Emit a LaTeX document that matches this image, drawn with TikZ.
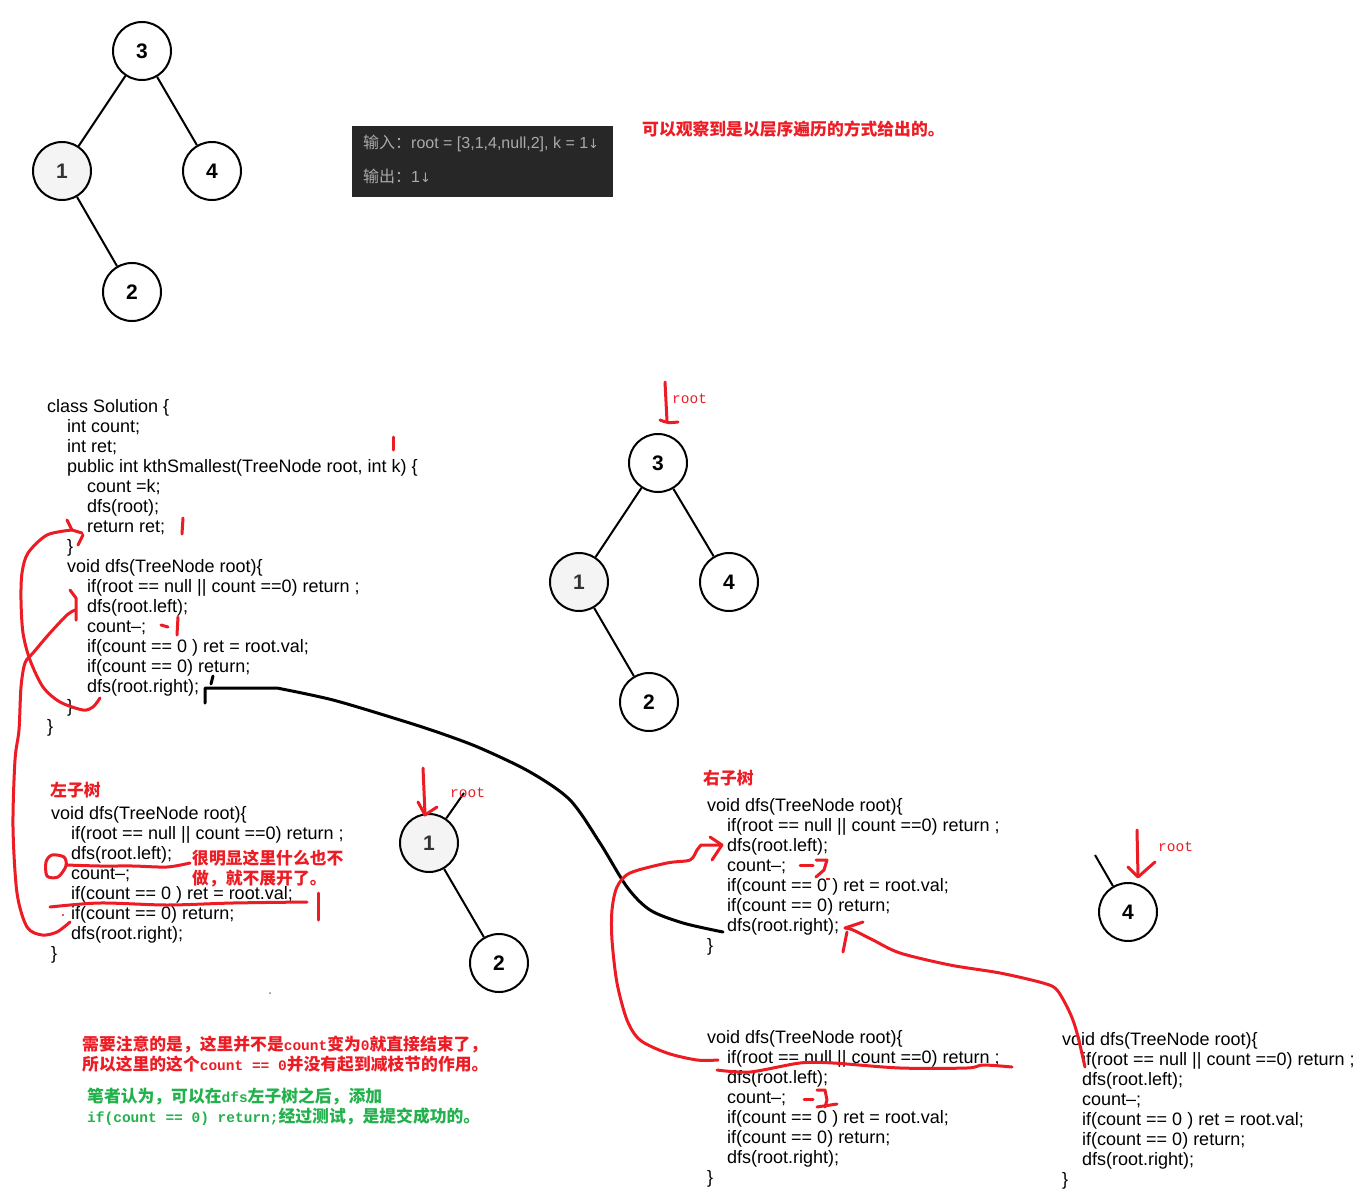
\documentclass[tikz,border=0pt]{standalone}
\usepackage{fontspec}
\setmainfont{Liberation Sans}
\setmonofont{Liberation Mono}
\newfontfamily\cjk{Noto Sans CJK SC}
\newfontfamily\arw{DejaVu Sans}
\definecolor{pred}{RGB}{237,28,36}
\definecolor{pgreen}{RGB}{34,177,76}
\definecolor{boxbg}{RGB}{39,39,39}
\definecolor{boxtx}{RGB}{170,170,170}
\definecolor{nodegray}{RGB}{244,244,244}
\newcommand\mt[1]{{\ttfamily\fontsize{14.5}{16}\selectfont #1}}
\tikzset{
  code/.style={font=\fontsize{18}{20}\selectfont, inner sep=0pt, anchor=base west, text=black},
  tnode/.style={circle, draw=black, line width=2pt, minimum size=58pt, inner sep=0pt, fill=white, font=\fontsize{21}{21}\selectfont\bfseries},
  gnode/.style={tnode, fill=nodegray, text=black!80},
  redpen/.style={draw=pred, line width=3pt, line cap=round, line join=round},
  blkpen/.style={draw=black, line width=3pt, line cap=round, line join=round},
  edge/.style={draw=black, line width=2pt},
  cjkred/.style={font=\cjk\fontsize{16.8}{20}\selectfont\bfseries, text=pred, inner sep=0pt, anchor=base west},
  cjkgreen/.style={font=\cjk\fontsize{16.8}{20}\selectfont\bfseries, text=pgreen, inner sep=0pt, anchor=base west},
  rootlbl/.style={font=\ttfamily\fontsize{14.5}{16}\selectfont, text=pred, inner sep=0pt, anchor=base west},
  boxtxt/.style={font=\fontsize{16}{18}\selectfont, text=boxtx, inner sep=0pt, anchor=base west}
}
\begin{document}
\begin{tikzpicture}[x=1pt,y=-1pt]
\fill[white] (0,0) rectangle (1371,1204);
\useasboundingbox (0,0) rectangle (1371,1204);

% ---------- top tree ----------
\node[tnode] (t3) at (142,51) {3};
\node[gnode] (t1) at (62,171) {1};
\node[tnode] (t4) at (212,171) {4};
\node[tnode] (t2) at (132,292) {2};
\draw[edge] (t3)--(t1);
\draw[edge] (t3)--(t4);
\draw[edge] (t1)--(t2);

% ---------- dark box ----------
\node[fill=boxbg, minimum width=261pt, minimum height=71pt, anchor=north west, inner sep=0pt] (inbox) at (352,126) {};
\node[boxtxt] (in1) at (363,148.5) {{\cjk 输入：}root = [3,1,4,null,2], k = 1{\arw\fontsize{13}{13}\selectfont ↓}};
\node[boxtxt] (in2) at (363,182.5) {{\cjk 输出：}1{\arw\fontsize{13}{13}\selectfont ↓}};

\node[cjkred] (note1) at (642,136) {可以观察到是以层序遍历的方式给出的。};

% ---------- code 1 ----------
\node[code] (a1) at (47,412) {class Solution \{};
\node[code] (a2) at (67,432) {int count;};
\node[code] (a3) at (67,452) {int ret;};
\node[code] (a4) at (67,472) {public int kthSmallest(TreeNode root, int k) \{};
\node[code] (a5) at (87,492) {count =k;};
\node[code] (a6) at (87,512) {dfs(root);};
\node[code] (a7) at (87,532) {return ret;};
\node[code] (a8) at (67,552) {\}};
\node[code] (a9) at (67,572) {void dfs(TreeNode root)\{};
\node[code] (a10) at (87,592) {if(root == null || count ==0) return ;};
\node[code] (a11) at (87,612) {dfs(root.left);};
\node[code] (a12) at (87,632) {count–;};
\node[code] (a13) at (87,652) {if(count == 0 ) ret = root.val;};
\node[code] (a14) at (87,672) {if(count == 0) return;};
\node[code] (a15) at (87,692) {dfs(root.right);};
\node[code] (a16) at (67,712) {\}};
\node[code] (a17) at (47,732) {\}};

% ---------- middle tree ----------
\node[tnode] (m3) at (658,463) {3};
\node[gnode] (m1) at (579,582) {1};
\node[tnode] (m4) at (729,582) {4};
\node[tnode] (m2) at (649,702) {2};
\draw[edge] (m3)--(m1);
\draw[edge] (m3)--(m4);
\draw[edge] (m1)--(m2);
\draw[redpen] (665,382) -- (667,421);
\draw[redpen] (660,420) .. controls (668,423) .. (678,422);
\node[rootlbl] (mroot) at (672,403) {root};

% ---------- left subtree ----------
\node[cjkred] (lt) at (50,796) {左子树};
\node[code] (b1) at (51,819) {void dfs(TreeNode root)\{};
\node[code] (b2) at (71,839) {if(root == null || count ==0) return ;};
\node[code] (b3) at (71,859) {dfs(root.left);};
\node[code] (b4) at (71,879) {count–;};
\node[code] (b5) at (71,899) {if(count == 0 ) ret = root.val;};
\node[code] (b6) at (71,919) {if(count == 0) return;};
\node[code] (b7) at (71,939) {dfs(root.right);};
\node[code] (b8) at (51,959) {\}};
\node[cjkred] (ln1) at (192,864) {很明显这里什么也不};
\node[cjkred] (ln2) at (192,884) {做，就不展开了。};

\node[gnode] (l1) at (429,843) {1};
\node[tnode] (l2) at (499,963) {2};
\coordinate (l1p) at (464,793);
\draw[edge] (l1)--(l2);
\draw[edge] (l1)--(l1p);
\draw[redpen] (423,768) -- (425,814);
\draw[redpen] (418,802) -- (425,815) -- (437,807);
\node[rootlbl] (lroot) at (450,797) {root};

% ---------- right subtree ----------
\node[cjkred] (rt) at (703,784) {右子树};
\node[code] (c1) at (707,811) {void dfs(TreeNode root)\{};
\node[code] (c2) at (727,831) {if(root == null || count ==0) return ;};
\node[code] (c3) at (727,851) {dfs(root.left);};
\node[code] (c4) at (727,871) {count–;};
\node[code] (c5) at (727,891) {if(count == 0 ) ret = root.val;};
\node[code] (c6) at (727,911) {if(count == 0) return;};
\node[code] (c7) at (727,931) {dfs(root.right);};
\node[code] (c8) at (707,951) {\}};

\node[tnode] (r4) at (1128,912) {4};
\coordinate (r4p) at (1095,855);
\draw[edge] (r4)--(r4p);
\draw[redpen] (1137,830) -- (1138,876);
\draw[redpen] (1128,867) -- (1138,877) -- (1155,862);
\node[rootlbl] (rroot) at (1158,851) {root};

% ---------- bottom middle ----------
\node[code] (d1) at (707,1043) {void dfs(TreeNode root)\{};
\node[code] (d2) at (727,1063) {if(root == null || count ==0) return ;};
\node[code] (d3) at (727,1083) {dfs(root.left);};
\node[code] (d4) at (727,1103) {count–;};
\node[code] (d5) at (727,1123) {if(count == 0 ) ret = root.val;};
\node[code] (d6) at (727,1143) {if(count == 0) return;};
\node[code] (d7) at (727,1163) {dfs(root.right);};
\node[code] (d8) at (707,1183) {\}};

% ---------- far right ----------
\node[code] (e1) at (1062,1045) {void dfs(TreeNode root)\{};
\node[code] (e2) at (1082,1065) {if(root == null || count ==0) return ;};
\node[code] (e3) at (1082,1085) {dfs(root.left);};
\node[code] (e4) at (1082,1105) {count–;};
\node[code] (e5) at (1082,1125) {if(count == 0 ) ret = root.val;};
\node[code] (e6) at (1082,1145) {if(count == 0) return;};
\node[code] (e7) at (1082,1165) {dfs(root.right);};
\node[code] (e8) at (1062,1185) {\}};

% ---------- bottom notes ----------
\node[cjkred] (bn1) at (82,1050) {需要注意的是，这里并不是\mt{count}变为\mt{0}就直接结束了，};
\node[cjkred] (bn2) at (82,1070) {所以这里的这个\mt{count == 0}并没有起到减枝节的作用。};
\node[cjkgreen] (gn1) at (87,1102) {笔者认为，可以在\mt{dfs}左子树之后，添加};
\node[cjkgreen] (gn2) at (87,1122) {\mt{if(count == 0) return;}经过测试，是提交成功的。};
\fill[gray] (270,993) circle (1pt);

% ---------- black hand curve ----------
\draw[blkpen] (205,703) -- (205,688) -- plot[smooth] coordinates {(277,688) (333,700) (400,720) (440,733) (480,748) (530,772) (570,800) (600,843) (627,887) (650,910) (683,923) (723,932)};
\draw[blkpen] (213,676) -- (211,684);

% ---------- red hand marks ----------
% code 1
\draw[redpen] (393,437) -- (393,450);
\draw[redpen] (183,518) -- (182,534);
\draw[redpen] (161,625) -- (168,627);
\draw[redpen] (178,617) -- (177,635);
% curve A
\draw[redpen] plot[smooth] coordinates {(100,698) (93,707) (83,710) (60,702) (43,687) (30,660) (23,633) (21,600) (22,573) (28,553) (47,535) (72,530)};
\draw[redpen] (67,520) -- (72,530) -- (82,533);
\draw[redpen] (78,545) -- (83,535);
% curve B
\draw[redpen] plot[smooth] coordinates {(75,610) (67,615) (50,633) (33,653) (25,663) (21,687) (19,730) (15,760) (13,827) (17,893) (27,927) (42,935) (57,932) (70,922)};
\draw[redpen] (70,590) -- (76,598) -- (76,620);
% left subtree marks
\draw[redpen] plot[smooth cycle] coordinates {(64,857) (52,855) (46,862) (47,876) (58,877) (66,866)};
\draw[redpen] plot[smooth] coordinates {(66,865) (100,866) (133,866) (167,867) (190,863)};
\draw[redpen] plot[smooth] coordinates {(50,907) (100,903) (167,905) (233,903) (307,902)};
\draw[redpen] (318,893) -- (318,920);
\fill[pred] (63,915) circle (1.2pt);
% right subtree marks
\draw[redpen] (800,865) -- (813,865);
\draw[redpen] (816,860) -- (827,860) -- (824,870) -- (816,877);
\draw[draw=pred, line width=1.5pt] (826,879) -- (830,879);
\draw[redpen] plot[smooth] coordinates {(718,1060) (697,1060) (667,1053) (640,1040) (627,1020) (617,983) (612,940) (612,910) (617,887) (630,873) (667,863) (690,860) (697,850) (701,845)} -- (722,845);
\draw[redpen] (710,837) -- (722,845) -- (712,860);
% bottom middle marks
\draw[redpen] plot[smooth] coordinates {(717,1070) (750,1072) (800,1063) (833,1063) (900,1068) (967,1068) (983,1065) (1012,1067)};
\draw[redpen] (804,1099) -- (813,1099);
\draw[redpen] (817,1090) -- (825,1090) -- (827,1100) -- (825,1107);
\draw[redpen] (817,1107) -- (837,1104);
% far-right to right subtree
\draw[redpen] plot[smooth] coordinates {(1085,1067) (1077,1033) (1070,1013) (1057,990) (1043,983) (1000,973) (950,965) (900,953) (873,940) (853,930) (845,928)};
\draw[redpen] (863,922) -- (845,928);
\draw[redpen] (843,952) -- (847,932);
\end{tikzpicture}
\end{document}
